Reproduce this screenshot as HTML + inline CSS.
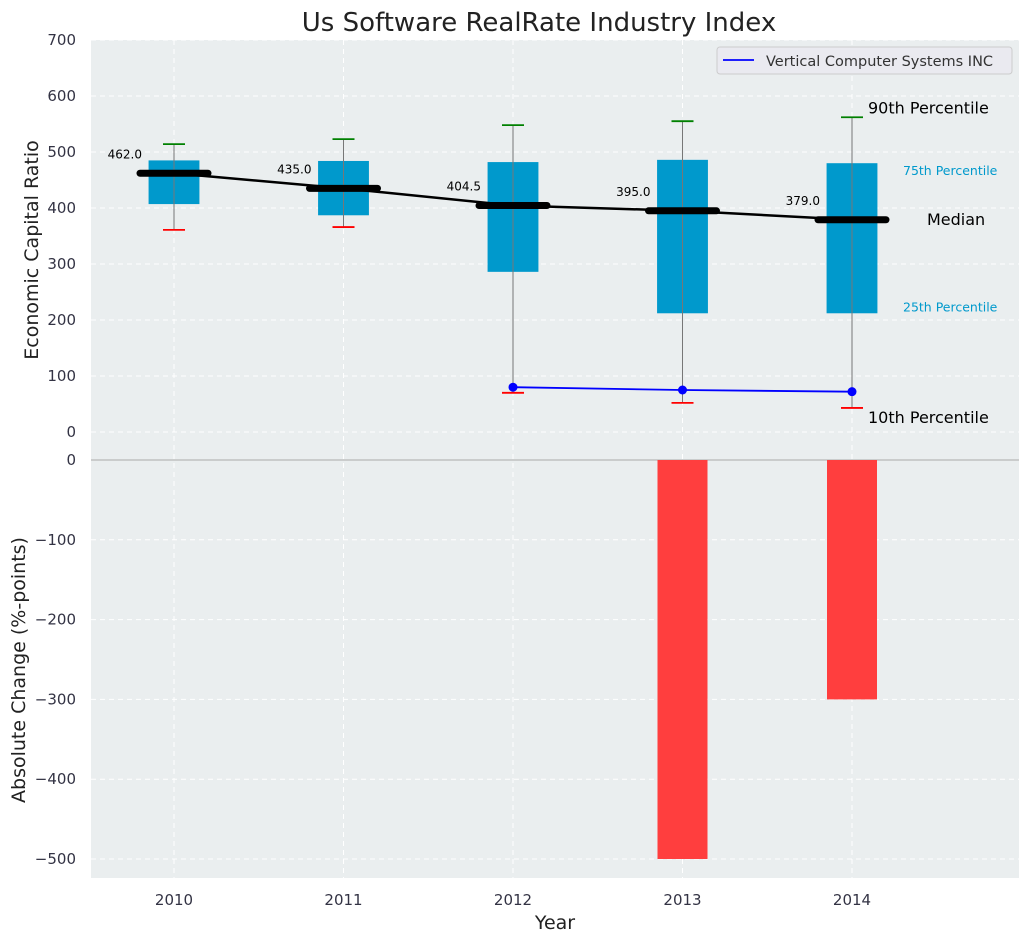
<!DOCTYPE html>
<html><head><meta charset="utf-8">
<style>
body{margin:0;background:#fff;font-family:"Liberation Sans","DejaVu Sans",sans-serif;}
svg text{font-family:"DejaVu Sans","Liberation Sans",sans-serif;}
</style></head>
<body>
<svg id="chart" width="1029" height="942" xmlns="http://www.w3.org/2000/svg"></svg>
<script>
const years=[2010,2011,2012,2013,2014];
const p10=[361,366,70,52,43];
const q1=[407,387,286,212,212];
const medians=[462.0,435.0,404.5,395.0,379.0];
const q3=[485,484,482,486,480];
const p90=[514,523,548,555,562];
const company=[null,null,80,75,72];
const changes=[null,null,null,-500,-300];
const topTicks=[0,100,200,300,400,500,600,700];
const botTicks=[0,-100,-200,-300,-400,-500];

const svg=document.getElementById('chart');
const NS='http://www.w3.org/2000/svg';
function mk(tag,attrs,name,parent){const e=document.createElementNS(NS,tag);for(const k in attrs)e.setAttribute(k,attrs[k]);


(parent||svg).appendChild(e);return e;}
function txt(x,y,s,name,attrs){const t=mk('text',Object.assign({x:x,y:y},attrs||{}),name);t.textContent=s;return t;}

const L=91,R=1019;
const xs=i=>174+i*169.5;
const yT=v=>432-v*0.56;
const yB=v=>460-v*0.798;

mk('rect',{x:L,y:40,width:R-L,height:420,fill:'#eaeeef'},'top-plot-area');
mk('rect',{x:L,y:460,width:R-L,height:418,fill:'#eaeeef'},'bottom-plot-area');
topTicks.forEach(v=>{mk('line',{x1:L,x2:R,y1:yT(v),y2:yT(v),stroke:'#fff','stroke-dasharray':'5,4','stroke-width':1},'top-grid-line');
txt(76,yT(v)+5,String(v),'top-y-tick',{'text-anchor':'end','font-size':15,fill:'#334'});});
botTicks.forEach(v=>{mk('line',{x1:L,x2:R,y1:yB(v),y2:yB(v),stroke:'#fff','stroke-dasharray':'5,4','stroke-width':1},'bottom-grid-line');
txt(76,yB(v)+5,v===0?'0':'\u2212'+Math.abs(v),'bottom-y-tick',{'text-anchor':'end','font-size':15,fill:'#334'});});
years.forEach((y,i)=>{mk('line',{x1:xs(i),x2:xs(i),y1:40,y2:878,stroke:'#fff','stroke-dasharray':'5,4'},'x-grid-line');
txt(xs(i),905,String(y),'x-tick',{'text-anchor':'middle','font-size':15,fill:'#334'});});
mk('line',{x1:L,x2:R,y1:460,y2:460,stroke:'#aaa','stroke-width':1},'zero-divider');

const bw=0.3*169.5;
years.forEach((y,i)=>{
 const x=xs(i);
 mk('rect',{x:x-bw/2,y:yT(q3[i]),width:bw,height:yT(q1[i])-yT(q3[i]),fill:'#0099cc'},'iqr-box-'+y);
 mk('line',{x1:x,x2:x,y1:yT(p90[i]),y2:yT(p10[i]),stroke:'#777','stroke-width':1},'whisker-'+y);
 mk('line',{x1:x-11,x2:x+11,y1:yT(p90[i]),y2:yT(p90[i]),stroke:'green','stroke-width':1.8},'p90-cap-'+y);
 mk('line',{x1:x-11,x2:x+11,y1:yT(p10[i]),y2:yT(p10[i]),stroke:'red','stroke-width':1.8},'p10-cap-'+y);
});
mk('polyline',{points:medians.map((m,i)=>xs(i)+','+yT(m)).join(' '),fill:'none',stroke:'#000','stroke-width':2.5},'median-line');
years.forEach((y,i)=>{
 mk('line',{x1:xs(i)-34,x2:xs(i)+34,y1:yT(medians[i]),y2:yT(medians[i]),stroke:'#000','stroke-width':7,'stroke-linecap':'round'},'median-marker-'+y);
 txt(xs(i)-32,yT(medians[i])-15,medians[i].toFixed(1),'median-label-'+y,{'text-anchor':'end','font-size':12,fill:'#000'});
});
const pts=[];company.forEach((c,i)=>{if(c!==null)pts.push([xs(i),yT(c)]);});
mk('polyline',{points:pts.map(p=>p.join(',')).join(' '),fill:'none',stroke:'blue','stroke-width':1.8},'company-line');
pts.forEach(p=>mk('circle',{cx:p[0],cy:p[1],r:4.5,fill:'blue'},'company-point'));
changes.forEach((c,i)=>{if(c===null)return;
 mk('rect',{x:xs(i)-25,y:yB(0),width:50,height:yB(c)-yB(0),fill:'#ff3e3e'},'change-bar-'+years[i]);});
const li=4,lx=xs(li);
txt(lx+16,yT(p90[li])-4,'90th Percentile','p90-annotation',{'font-size':16,fill:'#000'});
txt(lx+16,yT(p10[li])+15,'10th Percentile','p10-annotation',{'font-size':16,fill:'#000'});
txt(lx+75,yT(medians[li])+5,'Median','median-annotation',{'font-size':16,fill:'#000'});
txt(lx+51,yT(q3[li])+12,'75th Percentile','p75-annotation',{'font-size':12.5,fill:'#0099cc'});
txt(lx+51,yT(q1[li])-2,'25th Percentile','p25-annotation',{'font-size':12.5,fill:'#0099cc'});
mk('rect',{x:717,y:47,width:295,height:27,rx:3,fill:'#eaeaf0',stroke:'#ccc'},'legend-box');
mk('line',{x1:723,x2:754,y1:60,y2:60,stroke:'blue','stroke-width':1.8},'legend-swatch');
txt(766,66,'Vertical Computer Systems INC','legend-label',{'font-size':14.5,fill:'#333'});
txt(539,31,'Us Software RealRate Industry Index','chart-title',{'text-anchor':'middle','font-size':26,fill:'#222'});
txt(555,929,'Year','x-axis-title',{'text-anchor':'middle','font-size':19,fill:'#222'});
txt(38,250,'Economic Capital Ratio','top-y-axis-title',{'text-anchor':'middle','font-size':19,fill:'#222',transform:'rotate(-90 38 250)'});
txt(25,670,'Absolute Change (%-points)','bottom-y-axis-title',{'text-anchor':'middle','font-size':19,fill:'#222',transform:'rotate(-90 25 670)'});
</script>
</body></html>
